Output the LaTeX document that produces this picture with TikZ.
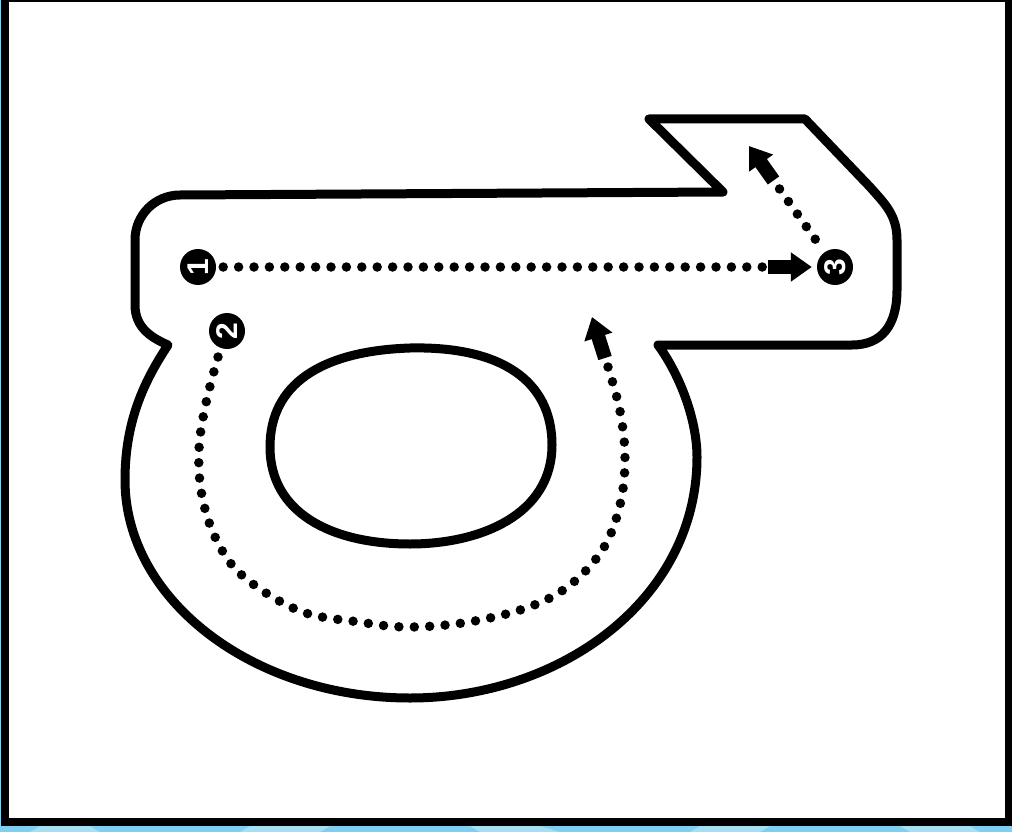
\documentclass[tikz,border=0pt]{standalone}
\usepackage{fontspec}
\usepackage{graphicx}
\setsansfont{Liberation Sans}
\usetikzlibrary{arrows.meta,calc}
\definecolor{bandblue}{HTML}{80CFEE}
\definecolor{bandlight}{HTML}{A6DEF3}
\begin{document}
\begin{tikzpicture}[x=1pt,y=-1pt,
  outline/.style={line width=9pt, line join=round, line cap=round},
  num/.style={circle, fill=black, text=white, minimum size=36pt, inner sep=0pt,
    font=\fontsize{30}{30}\selectfont\sffamily\bfseries},
  dots/.style={line width=9.5pt, line cap=round, dash pattern=on 0pt off 15.4pt},
  blockarrow/.style={line width=14pt, -{Triangle[length=21pt,width=28pt]}}
]
\useasboundingbox (0,0) rectangle (1012,832);
% frame
\fill[bandblue] (0,0) rectangle (1012,832);
\fill[bandlight] (40,826) -- (90,826) -- (100,832) -- (30,832) -- cycle;
\fill[bandlight] (250,826) -- (330,826) -- (320,832) -- (240,832) -- cycle;
\fill[bandlight] (470,826) -- (540,826) -- (560,832) -- (480,832) -- cycle;
\fill[bandlight] (700,826) -- (770,826) -- (760,832) -- (690,832) -- cycle;
\fill[bandlight] (900,826) -- (970,826) -- (980,832) -- (910,832) -- cycle;
\fill[black] (1,0) rectangle (1012,826);
\fill[white] (9,2) rectangle (1005,818);

% outer track outline
\draw[outline] (168,345) .. controls (152,338) and (135,328) .. (135,305)
  -- (135,240) .. controls (135,215) and (155,195) .. (180,195)
  -- (723,192) -- (649,119) -- (805,119) -- (870,187)
  .. controls (885,204) and (897,215) .. (897,240)
  -- (897,290) .. controls (897,325) and (882,345) .. (852,345)
  -- (658,345)
  .. controls (680,375) and (697,420) .. (697,457)
  .. controls (697,600) and (560,698) .. (410,698)
  .. controls (253,698) and (125,600) .. (125,480)
  .. controls (125,420) and (145,380) .. (168,345) -- cycle;

% inner hole
\draw[outline] (410,348) .. controls (500,346) and (552,380) .. (552,445)
  .. controls (552,515) and (480,544) .. (410,544)
  .. controls (330,544) and (270,512) .. (270,447)
  .. controls (270,385) and (320,351) .. (410,348) -- cycle;

% numbered markers
\node[num] (n1) at (198,267) {\rotatebox{90}{1}};
\node[num] (n2) at (227,331) {\rotatebox{90}{2}};
\node[num] (n3) at (835,267) {\rotatebox{90}{3}};

% path 1 -> 3
\coordinate (a1) at (768,267);
\draw[dots] ([xshift=7pt]n1.east) -- (a1);
\draw[blockarrow] (a1) -- ([xshift=-5pt]n3.west);

% path from 3 up-left
\coordinate (a3e) at (749,146);
\draw[dots] ($(n3)!0.23!(a3e)$) -- ($(n3)!0.65!(a3e)$);
\draw[blockarrow] ($(n3)!0.715!(a3e)$) -- (a3e);

% path 2 around the loop
\coordinate (c2s) at (218,357);
\coordinate (c2e) at (608,367);
\coordinate (a2s) at (605,358);
\coordinate (a2e) at (592,317);
\draw[dots] plot[smooth, tension=0.6] coordinates {(c2s) (206,403) (199,449) (202,496) (217,541) (244,577) (300,611) (359,622) (408,627) (469,622) (529,607) (570,585) (603,549) (620,505) (625,458) (620,411) (c2e)};
\draw[blockarrow] (a2s) -- (a2e);
\end{tikzpicture}
\end{document}
